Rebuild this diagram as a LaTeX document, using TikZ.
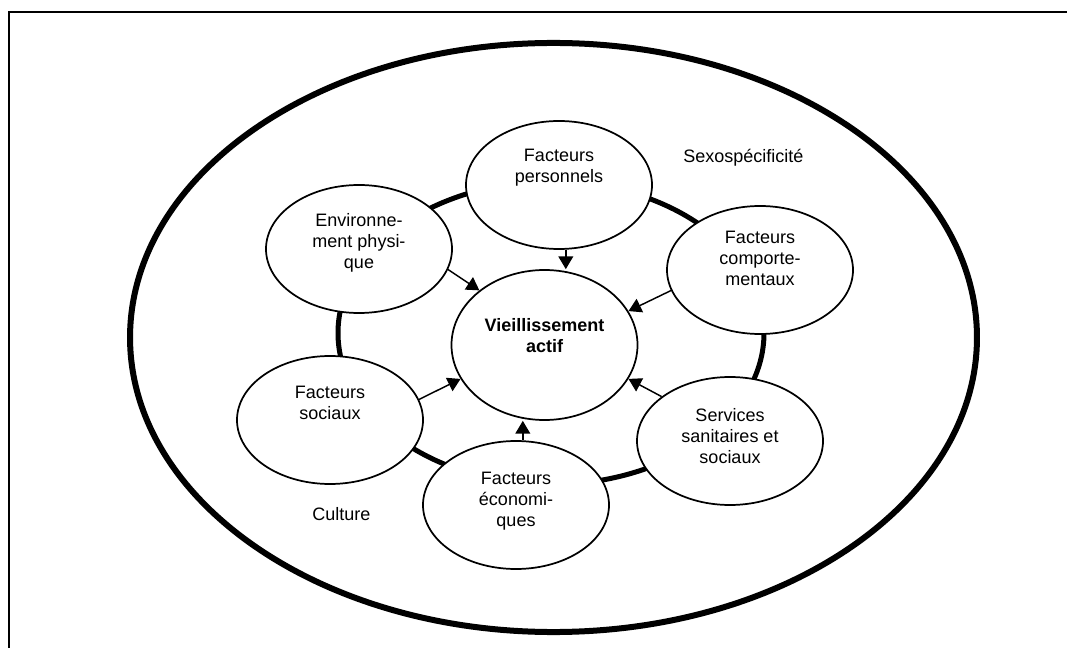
\documentclass[tikz,border=0pt]{standalone}
\usepackage{fontspec}
\setmainfont{Liberation Sans}
\usetikzlibrary{arrows.meta,shapes.geometric,calc}
\begin{document}
\begin{tikzpicture}[x=0.75pt,y=-0.75pt,
  fac/.style={ellipse,draw,line width=1.3pt,fill=white,minimum width=139.5pt,minimum height=96pt,inner sep=0pt},
  core/.style={fac,minimum height=112.5pt},
  txt/.style={font=\fontsize{13.5}{15.75}\selectfont,align=center,inner sep=0pt},
  arr/.style={line width=1.1pt,-{Triangle[length=9.5pt,width=11pt]}},
  thickring/.style={line width=3.75pt},
  outerring/.style={line width=4.5pt},
  frameline/.style={line width=1.1pt}]
\useasboundingbox (0,0) rectangle (1067,648);
% frame
\coordinate (fb) at (9,648);
\coordinate (fc) at (9,12);
\coordinate (fr) at (1067,12);
\draw[frameline] (fb) -- (fc) -- (fr);
% outer ellipse
\draw[outerring] (553.5,337.5) ellipse [x radius=317.6pt, y radius=220.9pt];
% inner ring
\draw[thickring] (551,333) ellipse [x radius=159.75pt, y radius=113.6pt];
% nodes
\node[core] (ctr) at (544.5,345) {};
\node[fac] (pers) at (559,185) {};
\node[fac] (env) at (359,249) {};
\node[fac] (comp) at (760,270) {};
\node[fac] (serv) at (730,441) {};
\node[fac] (soc) at (330,420) {};
\node[fac] (econ) at (516,505) {};
% texts
\node[txt,font=\fontsize{13.5}{15.75}\selectfont\bfseries] (tctr) at ($(ctr)+(0,-9)$) {Vieillissement\\actif};
\node[txt] (tpers) at ($(pers)+(0,-17)$) {Facteurs\\personnels};
\node[txt] (tenv) at ($(env)+(0,-6)$) {Environne-\\ment physi-\\que};
\node[txt] (tcomp) at ($(comp)+(0,-12)$) {Facteurs\\comporte-\\mentaux};
\node[txt] (tserv) at ($(serv)+(0,-5)$) {Services\\sanitaires et\\sociaux};
\node[txt] (tsoc) at ($(soc)+(0,-17)$) {Facteurs\\sociaux};
\node[txt] (tecon) at ($(econ)+(0,-4)$) {Facteurs\\économi-\\ques};
\node[txt,anchor=west] (sexo) at (683,158) {Sexospécificité};
\node[txt,anchor=west] (cult) at (312,514) {Culture};
% arrows
\draw[arr] (env.-13) -- (ctr.140);
\draw[arr] (comp.-167) -- (ctr.22);
\draw[arr] (soc.13) -- (ctr.-158);
\draw[arr] (serv.147) -- (ctr.-22);
\draw[arr] (pers.-84) -- (pers.-84 |- ctr.north);
\draw[arr] (econ.84) -- (econ.84 |- ctr.south);
\end{tikzpicture}
\end{document}
